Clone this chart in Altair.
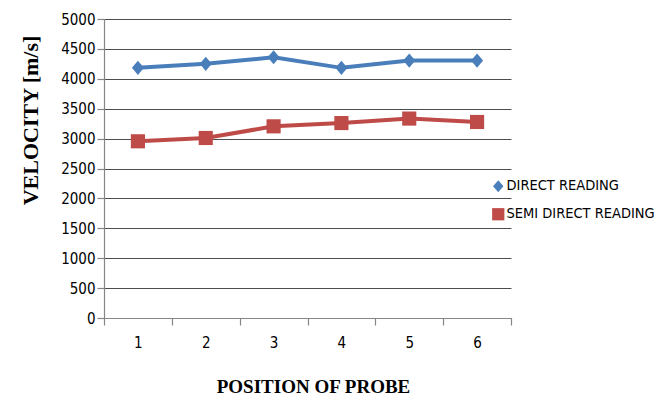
import altair as alt
import pandas as pd

positions = ["1", "2", "3", "4", "5", "6"]
direct_reading = [4183, 4250, 4360, 4183, 4305, 4305]
semi_direct_reading = [2955, 3010, 3205, 3260, 3335, 3278]
series_names = ["DIRECT READING", "SEMI DIRECT READING"]
series_colors = ["#4A7EBB", "#BE4B48"]
series_shapes = ["M-0.85,0L0,-1L0.85,0L0,1Z", "square"]

rows = []
for name, vals in zip(series_names, [direct_reading, semi_direct_reading]):
    for p, v in zip(positions, vals):
        rows.append({"position": p, "velocity": v, "series": name})
df = pd.DataFrame(rows)

label_font = "DejaVu Sans Condensed, DejaVu Sans, Liberation Sans Narrow, sans-serif"
title_font = "Liberation Serif, Times New Roman, serif"

x_enc = alt.X(
    "position:N",
    sort=positions,
    scale=alt.Scale(type="band", paddingInner=0, paddingOuter=0),
    axis=alt.Axis(
        title="POSITION OF PROBE",
        labelAngle=0,
        tickBand="extent",
        tickSize=7,
        labelPadding=10,
        titleX=209,
        titleY=74,
        titleBaseline="alphabetic",
        titleAnchor="start",
        titleAlign="center",
        titleFontSize=19,
    ),
)
y_enc = alt.Y(
    "velocity:Q",
    scale=alt.Scale(domain=[0, 5000], nice=False),
    axis=alt.Axis(
        title="VELOCITY [m/s]",
        values=list(range(0, 5001, 500)),
        format="d",
        tickSize=7,
        labelPadding=2,
        titleX=-74,
        titleY=101,
        titleAngle=-90,
        titleAlign="center",
        titleBaseline="middle",
        titleAnchor="start",
        titleFontSize=22,
    ),
)
color_enc = alt.Color(
    "series:N",
    scale=alt.Scale(domain=series_names, range=series_colors),
    legend=alt.Legend(title=None, orient="none", legendX=387, legendY=160),
)

lines = alt.Chart(df).mark_line(strokeWidth=4).encode(
    x=x_enc, y=y_enc, color=color_enc, detail="series:N"
)
points = alt.Chart(df).mark_point(filled=True, opacity=1, size=200).encode(
    x=x_enc,
    y=y_enc,
    color=color_enc,
    shape=alt.Shape(
        "series:N",
        scale=alt.Scale(domain=series_names, range=series_shapes),
        legend=alt.Legend(title=None, orient="none", legendX=387, legendY=160),
    ),
)

chart = (
    alt.layer(lines, points)
    .properties(
        width=407,
        height=299,
        autosize=alt.AutoSizeParams(type="none"),
        padding={"left": 96, "top": 11, "right": 149, "bottom": 82},
    )
    .configure_view(stroke=None)
    .configure_axis(
        labelFont=label_font,
        labelFontSize=15,
        labelColor="#000000",
        titleFont=title_font,
        titleFontWeight="bold",
        titleColor="#000000",
        domainColor="#868686",
        tickColor="#868686",
        domainWidth=1.2,
        tickWidth=1.2,
    )
    .configure_axisY(grid=True, gridColor="#4d4d4d", gridWidth=1, gridOpacity=1)
    .configure_axisX(grid=False)
    .configure_legend(
        labelFont=label_font,
        labelFontSize=14.5,
        labelColor="#000000",
        symbolSize=150,
        symbolStrokeWidth=0,
        rowPadding=13,
        labelOffset=1,
        padding=0,
    )
)

chart.save("out.html", embed_options={"renderer": "svg", "actions": False})
